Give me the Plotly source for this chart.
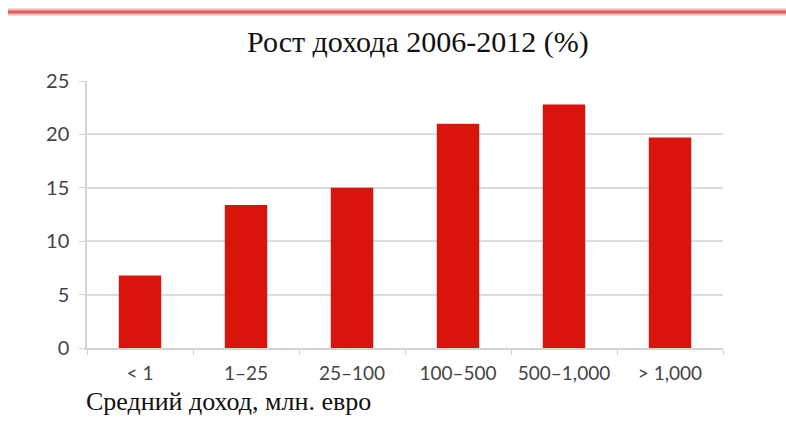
import plotly.graph_objects as go

categories = ["< 1", "1–25", "25–100", "100–500", "500–1,000", "> 1,000"]
growth = [6.8, 13.4, 15.0, 21.0, 22.8, 19.7]
y_ticks = [0, 5, 10, 15, 20, 25]

W, H = 786, 422
L, R, T, B = 87, 63, 81, 74
plot_w = W - L - R
plot_h = H - T - B

fig = go.Figure(
    go.Bar(
        x=categories,
        y=growth,
        marker=dict(color="#d9140c", line=dict(width=0)),
        width=0.4,
    )
)

# decorative rule across the top of the slide
px_to_paper_x = lambda px: (px - L) / plot_w
px_to_paper_y = lambda py: (H - B - py) / plot_h
fig.add_shape(type="line", xref="paper", yref="paper",
              x0=px_to_paper_x(8), x1=px_to_paper_x(786),
              y0=px_to_paper_y(12), y1=px_to_paper_y(12),
              line=dict(color="#f2b8b8", width=7), layer="above")
fig.add_shape(type="line", xref="paper", yref="paper",
              x0=px_to_paper_x(8), x1=px_to_paper_x(786),
              y0=px_to_paper_y(12), y1=px_to_paper_y(12),
              line=dict(color="#dd6060", width=3), layer="above")

fig.add_annotation(
    text="Рост дохода 2006-2012 (%)", xref="paper", yref="paper",
    x=px_to_paper_x(418), y=px_to_paper_y(42), xanchor="center", yanchor="middle",
    showarrow=False, font=dict(family="Liberation Serif", size=30, color="#111111"),
)
fig.add_annotation(
    text="Средний доход, млн. евро", xref="paper", yref="paper",
    x=px_to_paper_x(84), y=px_to_paper_y(401), xanchor="left", yanchor="middle",
    showarrow=False, font=dict(family="Liberation Serif", size=26, color="#111111"),
)

fig.update_layout(
    width=W, height=H,
    margin=dict(l=L, r=R, t=T, b=B, autoexpand=False),
    paper_bgcolor="white", plot_bgcolor="white",
    showlegend=False,
    bargap=0.6,
)
fig.update_xaxes(
    showgrid=False, showline=True, linecolor="#d4d4d4", linewidth=1.5,
    ticks="outside", tickson="boundaries", ticklen=5, tickcolor="#d4d4d4",
    ticklabelstandoff=7, tickangle=0, automargin=False,
    tickfont=dict(family="Lato", size=19, color="#444444"),
)
fig.update_yaxes(
    range=[0, 25], tickvals=y_ticks, showgrid=True, gridcolor="#dcdcdc", gridwidth=1.5,
    showline=True, linecolor="#d4d4d4", linewidth=1.5, zeroline=False,
    ticks="outside", ticklen=6, tickcolor="#d4d4d4",
    ticklabelstandoff=6, automargin=False,
    tickfont=dict(family="Lato", size=20, color="#444444"),
)

fig.write_html("out.html")
